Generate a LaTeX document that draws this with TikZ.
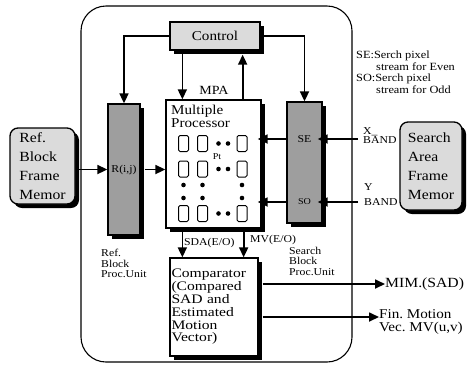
\documentclass[tikz,border=0pt]{standalone}
\usepackage{fontspec}
\setmainfont[FakeStretch=1.12]{Liberation Serif}
\usetikzlibrary{arrows.meta,shadows,calc}
\begin{document}
\begin{tikzpicture}[x=1pt,y=-1pt,
  box/.style={draw,line width=1.3pt,inner sep=0pt},
  shad/.style={drop shadow={shadow xshift=4pt,shadow yshift=-4pt,fill=black,opacity=1}},
  lightfill/.style={fill=black!14},
  darkfill/.style={fill=black!38},
  arr/.style={line width=1.7pt,-{Triangle[length=10pt,width=9pt]}},
  big/.style={font=\fontsize{13.5}{12.5}\selectfont},
  mem/.style={font=\fontsize{14}{19}\selectfont,align=left},
  small/.style={font=\fontsize{10.5}{10.5}\selectfont,align=left,inner sep=0pt},
  band/.style={font=\fontsize{10.5}{8.5}\selectfont,align=left,inner sep=0pt},
  note/.style={font=\fontsize{11}{11.5}\selectfont,align=left,inner sep=0pt},
  cell/.style={draw,line width=1pt,rounded corners=1.5pt,minimum width=10pt,minimum height=16pt,inner sep=0pt},
]
\useasboundingbox (0,0) rectangle (470,365);
% outer rounded frame
\draw[line width=1.1pt,rounded corners=25pt] (81,6) rectangle (352,362);

% labels outside that may be partly hidden
\node[band,anchor=north west] (xl) at (363,127) {X\_\\[1pt]BAND};
\node[band,anchor=north west] (yl) at (364,183) {Y\\[7pt]BAND};

% boxes
\node[box,shad,lightfill,minimum width=90pt,minimum height=28pt,big] (ctrl) at (215,36) {Control};
\node[box,shad,lightfill,rounded corners=8pt,minimum width=65pt,minimum height=76pt,mem] (refm) at (42.5,166) {Ref.\\Block\\Frame\\Memor};
\node[box,shad,darkfill,minimum width=32pt,minimum height=131pt,font=\fontsize{10.5}{10}\selectfont] (R) at (124,169.5) {R(i,j)};
\node[box,shad,fill=white,minimum width=95pt,minimum height=128pt] (mp) at (213.5,164) {};
\node[box,shad,darkfill,minimum width=35pt,minimum height=121pt] (se) at (304.5,162.5) {};
\node[font=\fontsize{10.5}{10}\selectfont,inner sep=0pt] (seL) at (304.5,139) {SE};
\node[font=\fontsize{9}{9}\selectfont,inner sep=0pt] (soL) at (304.5,202) {SO};
\node[box,shad,lightfill,rounded corners=8pt,minimum width=62pt,minimum height=88pt,mem] (srm) at (431,166) {Search\\Area\\Frame\\Memor};
\node[box,shad,fill=white,minimum width=88pt,minimum height=98pt,text width=85pt,align=left,inner sep=1.5pt,font=\fontsize{13}{12.8}\selectfont\addfontfeature{FakeStretch=1.2}] (comp) at (214,307) {Comparator\\(Compared\\SAD and\\Estimated\\Motion\\Vector)};

% inside multiple processor
\node[big,align=left,anchor=north west,inner sep=0pt] (mptxt) at (171,105) {Multiple\\Processor};
\node[font=\fontsize{9}{9}\selectfont,inner sep=0pt] (pt) at (217,157) {Pt};
\foreach \x/\c in {183.5/a,202.5/b,242/c}{
  \foreach \y/\r in {143.5/1,169/2,213.5/3}{
    \node[cell] (cell\c\r) at (\x,\y) {};
  }
  \fill (\x,185) circle (2.3pt);
  \fill (\x,198) circle (2.3pt);
}
\foreach \y in {143.5,169,213.5}{
  \fill (218.5,\y) circle (2.3pt);
  \fill (228,\y) circle (2.3pt);
}

% labels
\node[font=\fontsize{12.5}{12}\selectfont,inner sep=0pt] (mpa) at (214,90) {MPA};
\node[small,anchor=west] (sda) at (184,243) {SDA(E/O)};
\node[small,anchor=west] (mvl) at (250,240) {MV(E/O)};
\node[small,anchor=north west] (sbpu) at (289,247) {Search\\Block\\Proc.Unit};
\node[small,anchor=north west] (rbpu) at (101,249) {Ref.\\Block\\Proc.Unit};
\node[note,anchor=north west] (notes) at (356,51) {SE:Serch pixel\\\hspace*{20pt}stream for Even\\SO:Serch pixel\\\hspace*{20pt}stream for Odd};
\node[font=\fontsize{14}{14}\selectfont,anchor=west,inner sep=0pt] (mim) at (385,284) {MIM.(SAD)};
\node[font=\fontsize{13.5}{12.5}\selectfont,anchor=west,align=left,inner sep=0pt] (fin) at (379,322) {Fin.\ Motion\\Vec.\ MV(u,v)};

% connectors
\coordinate (xin) at (358,0);
\draw[arr] (ctrl.west) -| (R.north);
\draw[arr] (ctrl.east) -| (se.north);
\draw[arr] ([xshift=13pt]ctrl.south west) -- ([xshift=13pt]ctrl.south west |- mp.north);
\draw[arr,shorten >=4pt] ([xshift=-19pt]mp.north east) -- ([xshift=-19pt]mp.north east |- ctrl.south);
\draw[arr] ([xshift=3pt]R.west -| refm.east) -- (R.west);
\draw[arr] ([xshift=4pt]R.east) -- (R.east -| mp.west);
\draw[arr,shorten >=-4pt] (seL -| se.west) -- (seL -| mp.east);
\draw[arr,shorten >=-4pt] (soL -| se.west) -- (soL -| mp.east);
\draw[arr,shorten >=-5pt] (seL -| xin) -- (seL -| se.east);
\draw[arr,shorten >=-5pt] (soL -| xin) -- (soL -| se.east);
\draw[arr] ([xshift=17pt]mp.south west) -- ([xshift=17pt]mp.south west |- comp.north);
\draw[arr] ([xshift=-18pt]mp.south east) -- ([xshift=-18pt]mp.south east |- comp.north);
\draw[arr] ([xshift=4pt]comp.east |- mim.west) -- (mim.west);
\draw[arr] ([xshift=4pt,yshift=5pt]comp.east |- fin.west) -- ([yshift=5pt]fin.west);
\end{tikzpicture}
\end{document}
